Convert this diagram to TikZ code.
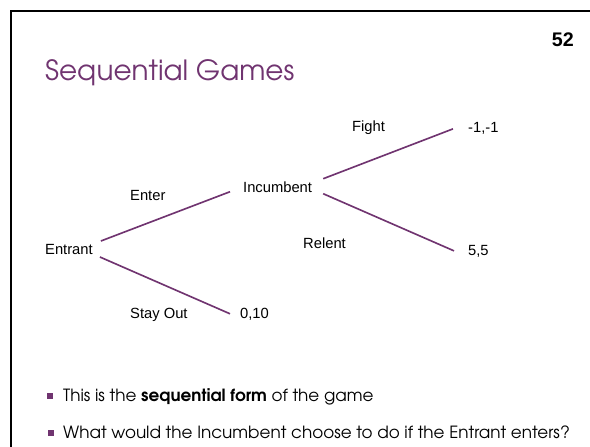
\documentclass[tikz,border=0pt]{standalone}
\usepackage{fontspec}
\setmainfont{Liberation Sans}
\newfontfamily\gothic{texgyreadventor}[Extension=.otf, UprightFont=*-regular, BoldFont=*-bold]
\usepackage{xcolor}
\usetikzlibrary{positioning}
\definecolor{plum}{RGB}{112,52,112}

\begin{document}
\begin{tikzpicture}[x=1.22pt, y=-1.22pt,
  lbl/.style={anchor=base west, inner sep=0pt, font=\fontsize{18}{20}\selectfont},
  branch/.style={draw=plum, line width=2pt},
  bullet/.style={fill=plum, minimum size=7.3pt, inner sep=0pt},
  point/.style={anchor=base west, inner sep=0pt, font=\gothic\fontsize{20.5}{24}\selectfont}
]
\useasboundingbox (0,0) rectangle (590,447);
%% --- Slide frame, title and number ---
\draw[line width=3pt] (590,11) -- (11,11) -- (11,447);
\node[anchor=base west, inner sep=0pt, text=plum, font=\gothic\fontsize{34}{38}\selectfont]
  (title) at (45,81) {Sequential Games};
\node[anchor=base east, inner sep=0pt, font=\bfseries\fontsize{24}{26}\selectfont]
  (slideno) at (574,47) {52};

%% --- Players and payoffs ---
\node[lbl] (entrant)   at (45,254)  {Entrant};
\node[lbl] (incumbent) at (243,192) {Incumbent};
\node[lbl] (payfight)  at (468,133) {-1,-1};
\node[lbl] (payrelent) at (468,255) {5,5};
\node[lbl] (payout)    at (240,318) {0,10};

%% --- Move labels ---
\node[lbl] (enter)   at (130,200) {Enter};
\node[lbl] (stayout) at (130,318) {Stay Out};
\node[lbl] (fight)   at (352,132) {Fight};
\node[lbl] (relent)  at (303,248) {Relent};

%% --- Branches ---
\draw[branch] ([shift={(8,-8)}]entrant.east) -- ([shift={(-13,5)}]incumbent.west);
\draw[branch] ([shift={(7,8)}]entrant.east)  -- ([shift={(-10,0)}]payout.west);
\draw[branch] ([shift={(11,-8)}]incumbent.east) -- ([shift={(-15,0)}]payfight.west);
\draw[branch] ([shift={(11,7)}]incumbent.east)  -- ([shift={(-14,0)}]payrelent.west);

%% --- Bullet points ---
\node[bullet] (b1) at (50,396) {};
\node[point]  (p1) at (63,401) {This is the \textbf{sequential form} of the game};
\node[bullet] (b2) at (51,433) {};
\node[point]  (p2) at (63,438) {What would the Incumbent choose to do if the Entrant enters?};
\end{tikzpicture}
\end{document}
